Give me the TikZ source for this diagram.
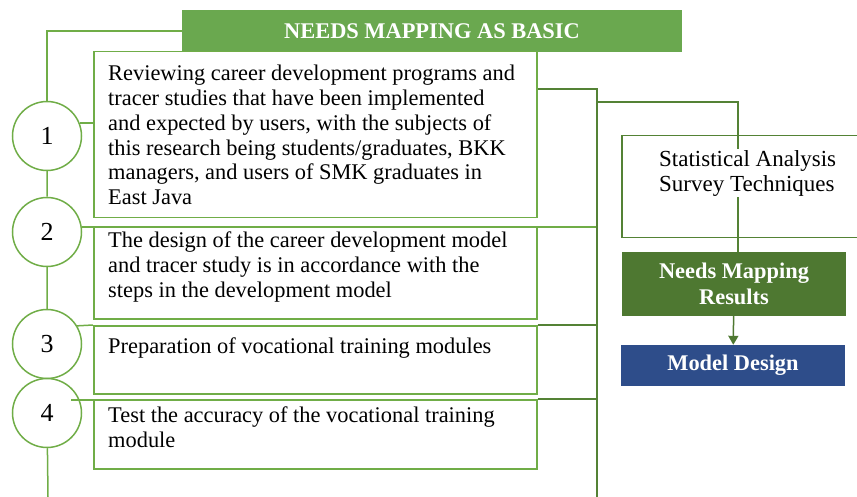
\documentclass[tikz,border=0pt]{standalone}
\usepackage{fontspec}
\setmainfont{Liberation Serif}
\usetikzlibrary{arrows.meta, backgrounds}

\definecolor{leafgreen}{HTML}{70AD47}
\definecolor{headgreen}{HTML}{6AA84F}
\definecolor{railgreen}{HTML}{548235}
\definecolor{resultgreen}{HTML}{4E7831}
\definecolor{designblue}{HTML}{2E4D8A}

\newcommand{\bodyfont}{\fontsize{22.4}{24.8}\selectfont}

\tikzset{
    headbar/.style={fill=headgreen, text=white, font=\bodyfont\bfseries,
        minimum width=500pt, minimum height=42pt, inner sep=0pt},
    stepbox/.style={draw=leafgreen, line width=1.5pt, anchor=north west, inner sep=0pt},
    steptext/.style={anchor=north west, align=left, font=\bodyfont, inner sep=0pt},
    stepnum/.style={circle, draw=leafgreen, line width=1.5pt, fill=white,
        minimum size=69pt, inner sep=0pt, font=\fontsize{26}{26}\selectfont},
    link/.style={leafgreen, line width=1.5pt},
    rail/.style={railgreen, line width=1.5pt},
    statbox/.style={draw=railgreen, line width=1.5pt, anchor=north west, inner sep=0pt},
    resultbox/.style={fill=resultgreen, text=white, align=center,
        font=\fontsize{22.4}{26}\selectfont\bfseries,
        minimum width=224pt, minimum height=64pt, inner sep=0pt},
    designbox/.style={fill=designblue, text=white, font=\bodyfont\bfseries,
        minimum width=224pt, minimum height=41pt, inner sep=0pt},
}

\begin{document}
\begin{tikzpicture}[x=1pt, y=-1pt]
    \useasboundingbox (0,0) rectangle (857,497);

    \node[headbar] (head) at (432,31) {NEEDS MAPPING AS BASIC};

    % the four steps
    \node[stepbox, minimum width=443pt, minimum height=166pt] (b1) at (93,51) {};
    \node[stepbox, minimum width=443pt, minimum height=91pt] (b2) at (93,227) {};
    \node[stepbox, minimum width=443pt, minimum height=68pt] (b3) at (93,325) {};
    \node[stepbox, minimum width=443pt, minimum height=69pt] (b4) at (93,399) {};

    \node[steptext] (t1) at (108,65) {Reviewing career development programs and\\
        tracer studies that have been implemented\\
        and expected by users, with the subjects of\\
        this research being students/graduates, BKK\\
        managers, and users of SMK graduates in\\
        East Java};
    \node[steptext] (t2) at (108,232) {The design of the career development model\\
        and tracer study is in accordance with the\\
        steps in the development model};
    \node[steptext] (t3) at (108,338) {Preparation of vocational training modules};
    \node[steptext] (t4) at (108,407) {Test the accuracy of the vocational training\\
        module};

    \foreach \n/\y in {1/136, 2/232, 3/344, 4/413}
        \node[stepnum] (c\n) at (47,\y) {\n};

    % right hand side
    \node[statbox, minimum width=260pt, minimum height=102pt] (stats) at (621,135) {};
    \node[resultbox] (results) at (734,284) {Needs Mapping\\Results};
    \node[designbox] (design) at (733,365.5) {Model Design};

    \coordinate (railtop) at (597,89);
    \coordinate (railbot) at (597,497);
    \coordinate (leftbot) at (48,497);
    \coordinate (fork) at (597,102);
    \coordinate (drop) at (738,102);

    \begin{scope}[on background layer]
        \draw[link] (head.west) -| (c1.center);
        \draw[link] (c1) -- (c2) -- (c3) -- (c4) -- (leftbot);
        \draw[link] (c1.22) -- (c1.22 -| b1.west);
        \draw[link] (c2.8) -- (c2.8 -| railtop);
        \draw[link] (c3.31) -- (b3.north west);
        \draw[rail] (b1.east |- railtop) -- (railtop) -- (railbot);
        \draw[rail] (b3.north east) -- (b3.north east -| railtop);
        \draw[rail] (b4.north east) -- (b4.north east -| railtop);
        \draw[rail] (fork) -- (drop) -- (drop |- results.north);
    \end{scope}

    \draw[link] ([shift={(24,-13)}]c4.center) -- ++(46,0);

    \node[steptext, fill=white, inner sep=1pt, font=\fontsize{23}{25}\selectfont]
        (statlbl) at (658,149) {Statistical Analysis\\Survey Techniques};

    \draw[rail, resultgreen, -{Triangle[length=9pt,width=10pt]}] (results) -- (design);
\end{tikzpicture}
\end{document}
